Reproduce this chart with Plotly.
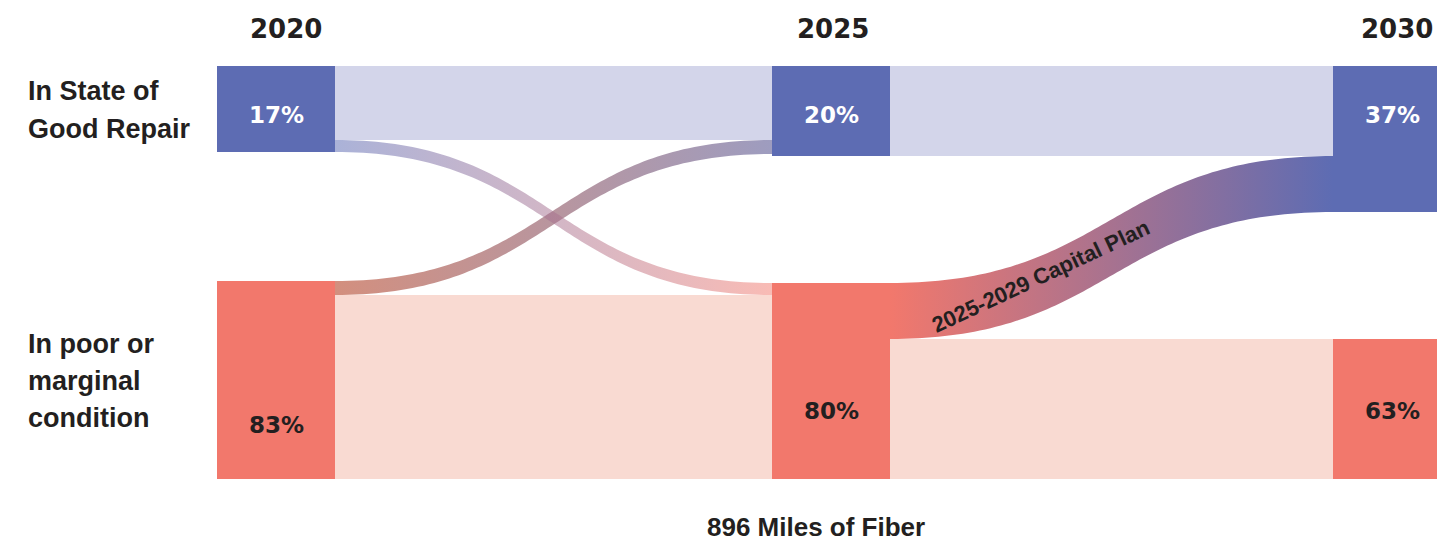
import numpy as np
import plotly.graph_objects as go

# ---------------- data ----------------
years = ["2020", "2025", "2030"]
state_lines = [["In State of", "Good Repair"], ["In poor or", "marginal", "condition"]]
pct_2020 = [17, 83]
pct_2025 = [20, 80]
pct_2030 = [37, 63]
# band widths between columns as drawn (row = from state, col = to state)
flow_2020_2025 = [[74, 12], [14, 184]]
flow_2025_2030 = [[90, 0], [56, 140]]
plan_label = "2025-2029 Capital Plan"
total_label = "896 Miles of Fiber"

# ---------------- layout / style ----------------
W, H = 1437, 544
col_x = [217, 772, 1333]
node_w = 118
top, bottom = 66, 479
BLUE = "#5d6cb3"
SALMON = "#f2786c"
LAV = "#d3d5ea"
PINK = "#f9dad2"
TXT = "#231f20"
LABEL_FONT = "Liberation Sans"
NUM_FONT = "DejaVu Sans"

pcts = [pct_2020, pct_2025, pct_2030]
flows = [flow_2020_2025, flow_2025_2030]
ncol = len(years)

# node heights
heights = []
for c in range(ncol):
    hs = []
    for s in range(2):
        inc = sum(flows[c - 1][r][s] for r in range(2)) if c > 0 else 0
        out = sum(flows[c][s]) if c < ncol - 1 else 0
        hs.append(max(inc, out))
    heights.append(hs)

# node vertical positions: good on top, poor at the bottom (justified)
nodes = []
for c in range(ncol):
    nodes.append([(top, top + heights[c][0]), (bottom - heights[c][1], bottom)])


def bez(x0, x1, y0, y1, n=90):
    t = np.linspace(0, 1, n)
    xm = (x0 + x1) / 2
    x = (1 - t) ** 3 * x0 + 3 * (1 - t) ** 2 * t * xm + 3 * (1 - t) * t ** 2 * xm + t ** 3 * x1
    y = (1 - t) ** 3 * y0 + 3 * (1 - t) ** 2 * t * y0 + 3 * (1 - t) * t ** 2 * y1 + t ** 3 * y1
    return x, y


link_colors = {
    (0, 0): (LAV, LAV),
    (1, 1): (PINK, PINK),
    (0, 1): ("rgba(92,107,180,0.52)", "rgba(242,119,107,0.5)"),
    (1, 0): ("rgba(192,95,71,0.7)", "rgba(116,114,164,0.7)"),
}
plan_colors = (SALMON, BLUE)

fig = go.Figure()

# source offsets (outgoing ordered by target index)
links = []
for c in range(ncol - 1):
    src_off = [nodes[c][s][0] for s in range(2)]
    for s in range(2):
        for t in range(2):
            v = flows[c][s][t]
            if v <= 0:
                continue
            links.append((c, s, t, v, src_off[s]))
            src_off[s] += v

# target offsets (incoming ordered by source index)
final_links = []
for c in range(ncol - 1):
    tgt_off = [nodes[c + 1][s][0] for s in range(2)]
    cl = sorted([l for l in links if l[0] == c], key=lambda l: (l[2], l[1]))
    for (cc, s, t, v, ys0) in cl:
        final_links.append((cc, s, t, v, ys0, tgt_off[t]))
        tgt_off[t] += v


def order_key(l):
    c, s, t = l[0], l[1], l[2]
    if s == t:
        return 0
    return 2 if c == 1 else 1


for (c, s, t, v, ys0, yt0) in sorted(final_links, key=order_key):
    x0 = col_x[c] + node_w
    x1 = col_x[c + 1]
    xt, yt = bez(x0, x1, ys0, yt0)
    xb, yb = bez(x0, x1, ys0 + v, yt0 + v)
    xs = np.concatenate([xt, xb[::-1]])
    ys = np.concatenate([yt, yb[::-1]])
    if c == 1 and s == 1 and t == 0:
        c0, c1 = plan_colors
    else:
        c0, c1 = link_colors[(s, t)]
    fig.add_trace(go.Scatter(
        x=xs, y=ys, mode="none", fill="toself",
        fillgradient=dict(type="horizontal", colorscale=[[0, c0], [1, c1]],
                          start=x0, stop=x1),
        hoverinfo="skip", showlegend=False))

# nodes
for c in range(ncol):
    for s in range(2):
        y0, y1 = nodes[c][s]
        x0, x1 = col_x[c], col_x[c] + node_w
        fig.add_trace(go.Scatter(
            x=[x0, x1, x1, x0, x0], y=[y0, y0, y1, y1, y0],
            mode="none", fill="toself", fillcolor=BLUE if s == 0 else SALMON,
            hoverinfo="skip", showlegend=False))

ann = []
year_x = [286, 833, 1397]
for c in range(ncol):
    ann.append(dict(x=year_x[c], y=29, text=years[c], showarrow=False,
                    xanchor="center", yanchor="middle",
                    font=dict(family=NUM_FONT, size=26, color=TXT, weight="bold")))
pct_y = [[115, 425], [115, 411], [115, 411]]
for c in range(ncol):
    for s in range(2):
        ann.append(dict(x=col_x[c] + node_w / 2, y=pct_y[c][s], text=f"{pcts[c][s]}%",
                        showarrow=False, xanchor="center", yanchor="middle",
                        font=dict(family=NUM_FONT, size=23,
                                  color="white" if s == 0 else TXT, weight="bold")))
line_y = [[91, 129], [344, 381, 418]]
for s in range(2):
    for i, line in enumerate(state_lines[s]):
        ann.append(dict(x=26, y=line_y[s][i], text=line, showarrow=False,
                        xanchor="left", yanchor="middle",
                        font=dict(family=LABEL_FONT, size=27, color=TXT, weight="bold")))
ann.append(dict(x=1040, y=276, text=plan_label, showarrow=False, textangle=-25,
                xanchor="center", yanchor="middle",
                font=dict(family=LABEL_FONT, size=22, color=TXT, weight="bold")))
ann.append(dict(x=816, y=527, text=total_label, showarrow=False,
                xanchor="center", yanchor="middle",
                font=dict(family=LABEL_FONT, size=26, color=TXT, weight="bold")))

fig.update_layout(
    width=W, height=H,
    margin=dict(l=0, r=0, t=0, b=0),
    paper_bgcolor="white", plot_bgcolor="white",
    xaxis=dict(range=[0, W], visible=False, fixedrange=True),
    yaxis=dict(range=[H, 0], visible=False, fixedrange=True),
    annotations=ann, showlegend=False,
)

fig.write_html("out.html",
               config={"displayModeBar": False},
               post_script="document.body.style.margin='0';document.body.style.overflow='hidden';")
